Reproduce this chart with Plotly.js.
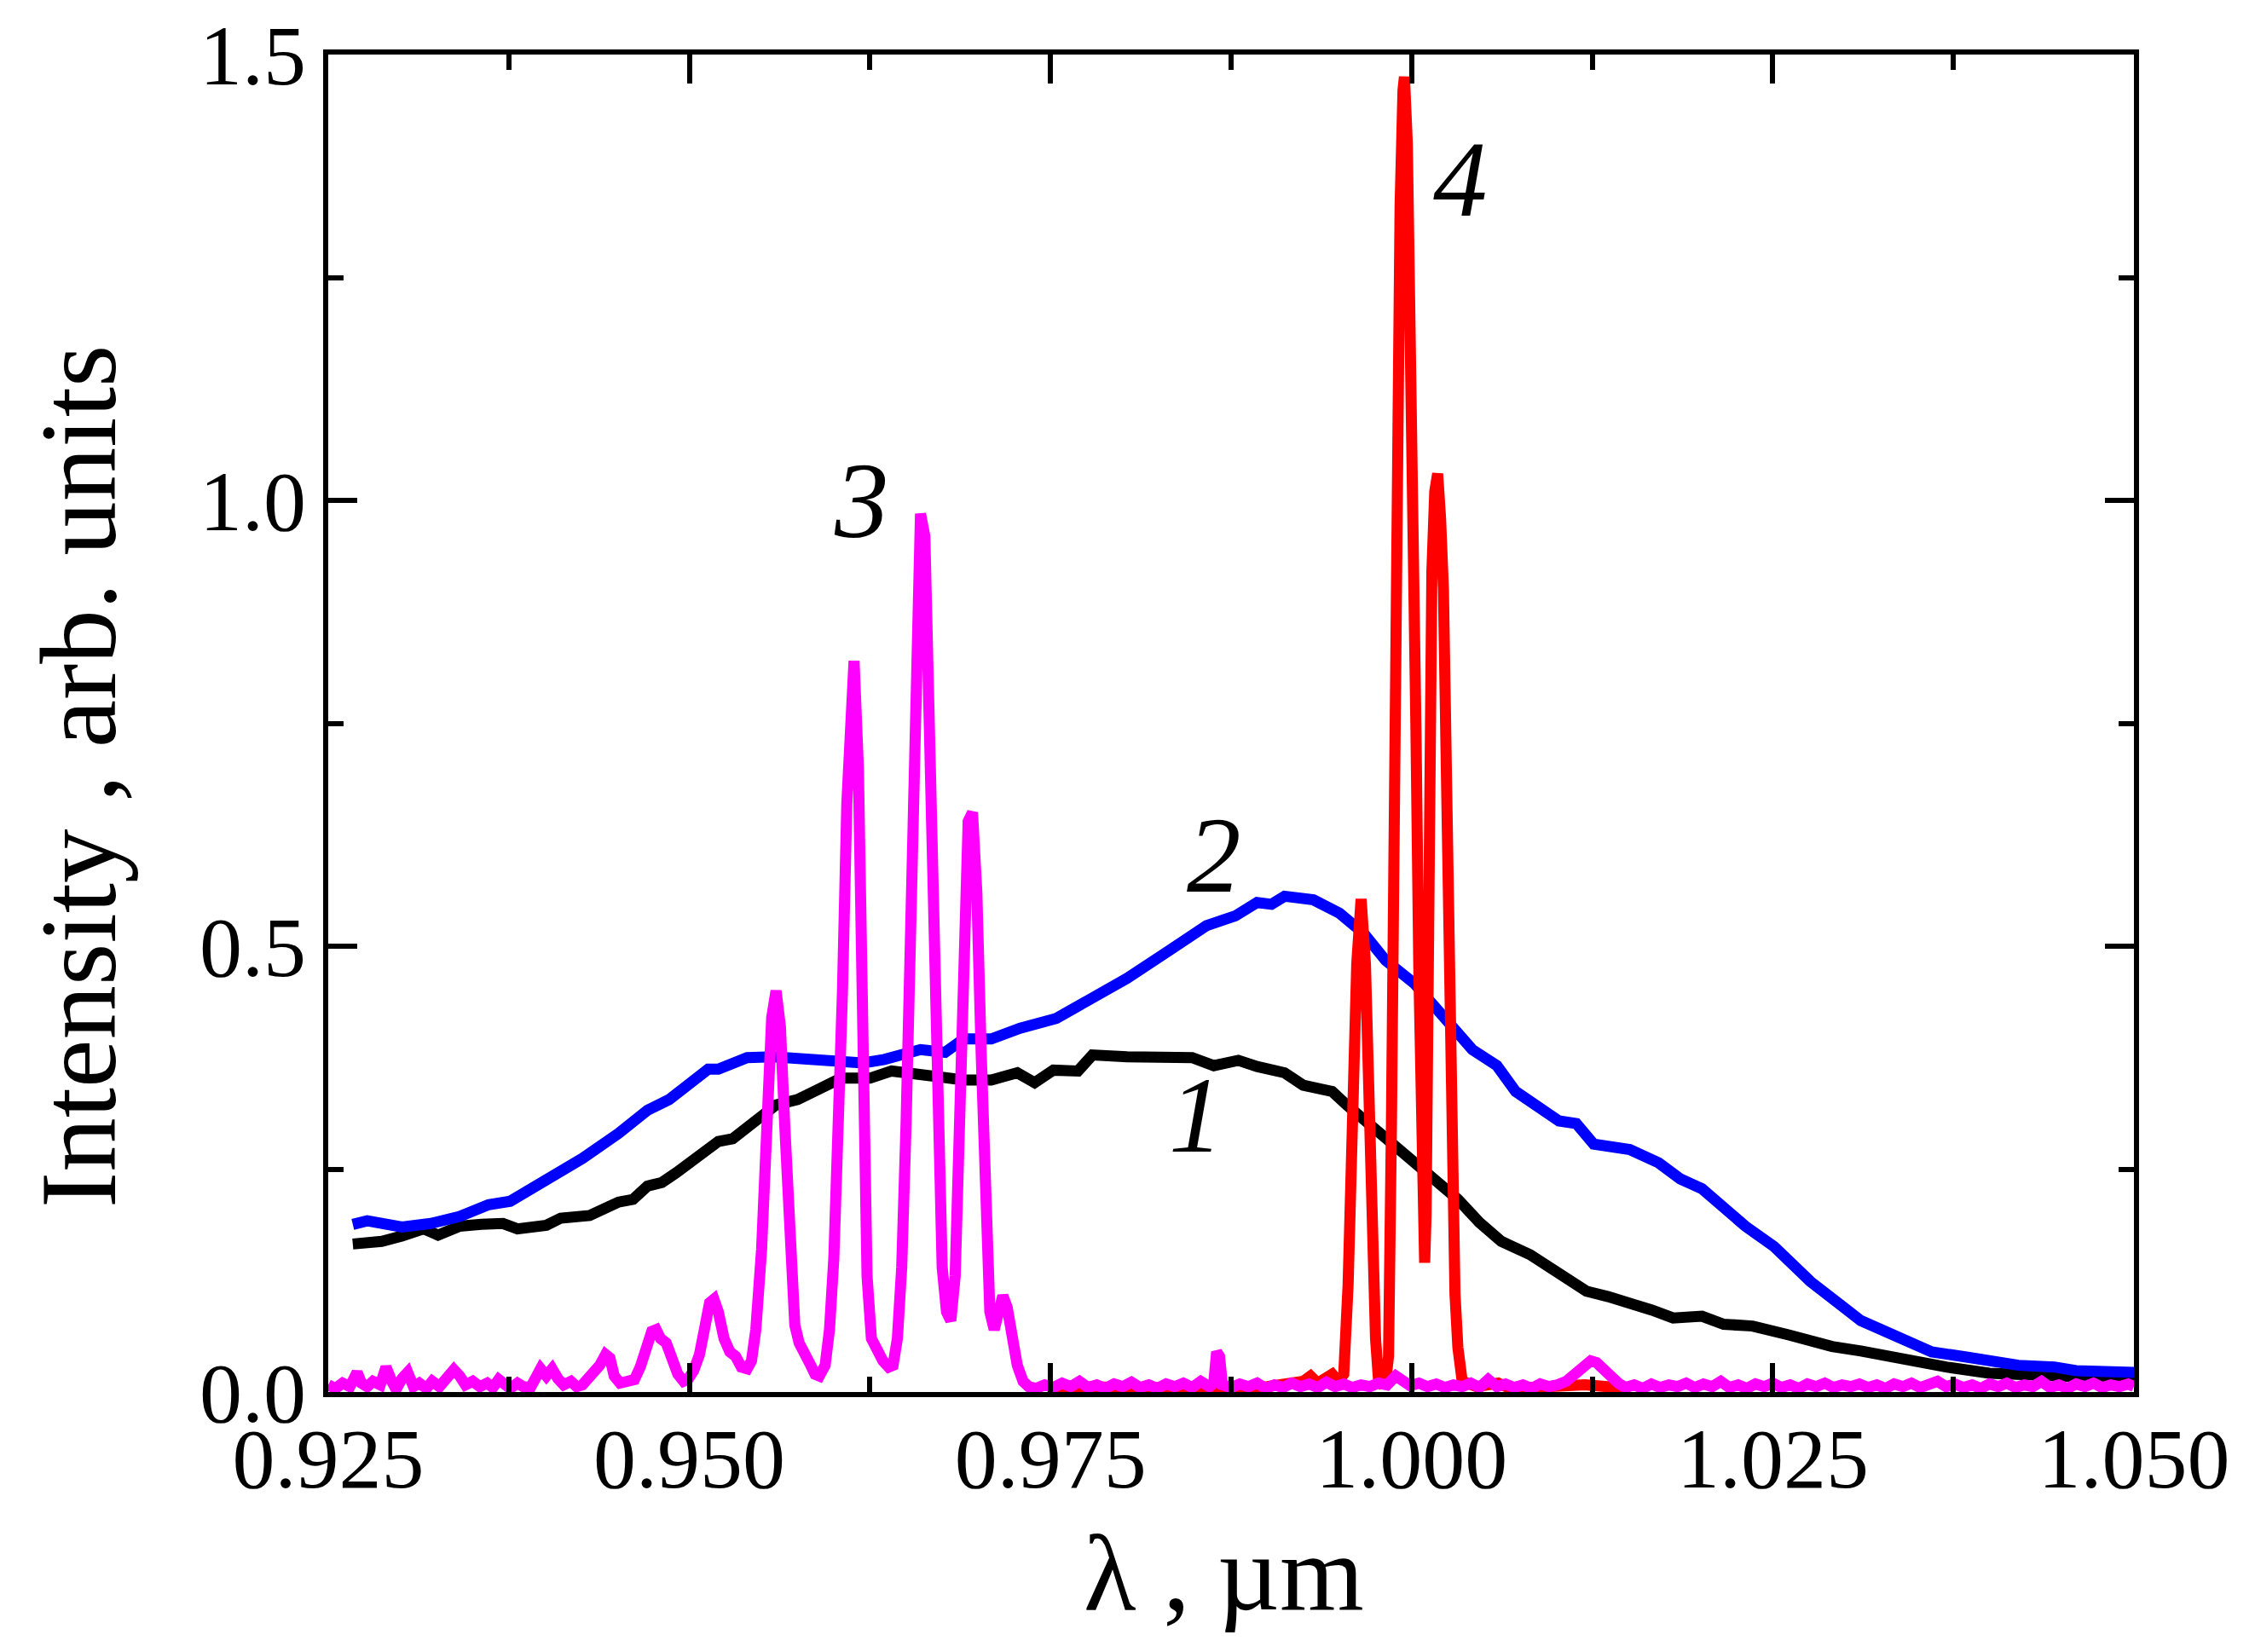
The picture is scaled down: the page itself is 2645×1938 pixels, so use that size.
<!DOCTYPE html>
<html>
<head>
<meta charset="utf-8">
<script src="https://cdn.plot.ly/plotly-3.0.1.min.js"></script>
<style>
  body { margin: 0; background: #fff; }
  #graphDiv { width: 2645px; height: 1938px; }
</style>
</head>
<body>
<div id="graphDiv"></div>
<script>
// curve 1 (black)
var lam1 = [0.9267,0.9287,0.9301,0.9316,0.9326,0.9341,0.9356,0.9371,0.9381,0.9391,0.9401,0.9411,0.9431,0.9451,0.9461,0.9471,0.9481,0.9491,0.9500,0.9510,
  0.9520,0.9530,0.9540,0.9550,0.9560,0.9575,0.9590,0.9605,0.9625,0.9640,0.9650,0.9670,0.9690,0.9709,0.9727,0.9739,0.9752,0.9769,0.9779,0.9803,
  0.9825,0.9848,0.9863,0.9880,0.9893,0.9912,0.9925,0.9945,0.9955,0.9972,0.9992,1.0012,1.0032,1.0047,1.0062,1.0082,1.0102,1.0121,1.0136,1.0151,
  1.0166,1.0181,1.0201,1.0216,1.0236,1.0261,1.0291,1.0311,1.0340,1.0370,1.0400,1.0430,1.0460,1.0480,1.0500];
var int1 = [0.166,0.169,0.175,0.183,0.176,0.186,0.188,0.189,0.183,0.186,0.187,0.195,0.198,0.213,0.216,0.231,0.235,0.246,0.257,0.266,
  0.281,0.284,0.297,0.310,0.322,0.328,0.340,0.352,0.352,0.360,0.358,0.353,0.350,0.350,0.358,0.347,0.361,0.360,0.378,0.376,
  0.377,0.375,0.366,0.372,0.365,0.358,0.344,0.337,0.322,0.298,0.269,0.242,0.216,0.190,0.169,0.154,0.133,0.113,0.107,0.101,
  0.092,0.083,0.085,0.076,0.074,0.064,0.051,0.046,0.036,0.028,0.021,0.018,0.016,0.016,0.018];

// curve 2 (blue)
var lam2 = [0.9267,0.9277,0.9301,0.9321,0.9341,0.9361,0.9376,0.9401,0.9426,0.9451,0.9471,0.9486,0.9500,0.9513,0.9520,0.9540,0.9558,0.9585,0.9600,0.9620,
  0.9635,0.9660,0.9677,0.9690,0.9709,0.9729,0.9754,0.9774,0.9803,0.9833,0.9858,0.9878,0.9893,0.9903,0.9912,0.9932,0.9950,0.9967,0.9982,1.0002,
  1.0022,1.0042,1.0059,1.0072,1.0102,1.0114,1.0126,1.0151,1.0171,1.0186,1.0201,1.0231,1.0251,1.0276,1.0311,1.0335,1.0360,1.0385,1.0420,1.0445,
  1.0460,1.0500];
var int2 = [0.188,0.192,0.185,0.189,0.197,0.210,0.214,0.238,0.262,0.290,0.316,0.328,0.346,0.362,0.362,0.375,0.376,0.373,0.369,0.369,
  0.373,0.384,0.381,0.396,0.396,0.408,0.419,0.437,0.464,0.496,0.523,0.534,0.549,0.547,0.556,0.552,0.537,0.514,0.484,0.458,
  0.422,0.384,0.366,0.337,0.304,0.301,0.278,0.272,0.257,0.239,0.228,0.186,0.163,0.124,0.080,0.062,0.045,0.039,0.030,0.028,
  0.024,0.022];

// curve 3 (magenta)
var lam3 = [0.9250,0.9255,0.9260,0.9265,0.9270,0.9273,0.9277,0.9281,0.9286,0.9290,0.9294,0.9297,0.9301,0.9305,0.9309,0.9313,0.9318,0.9322,0.9327,0.9332,
  0.9337,0.9341,0.9345,0.9350,0.9355,0.9360,0.9364,0.9368,0.9372,0.9376,0.9381,0.9385,0.9390,0.9394,0.9397,0.9401,0.9405,0.9409,0.9413,0.9418,
  0.9422,0.9426,0.9430,0.9434,0.9438,0.9442,0.9445,0.9448,0.9452,0.9457,0.9462,0.9466,0.9470,0.9474,0.9477,0.9480,0.9484,0.9488,0.9492,0.9496,
  0.9499,0.9503,0.9507,0.9511,0.9514,0.9517,0.9520,0.9524,0.9528,0.9532,0.9536,0.9540,0.9543,0.9546,0.9550,0.9554,0.9557,0.9560,0.9563,0.9566,
  0.9570,0.9573,0.9576,0.9580,0.9584,0.9587,0.9590,0.9594,0.9597,0.9600,0.9603,0.9606,0.9609,0.9612,0.9614,0.9617,0.9620,0.9623,0.9626,0.9630,
  0.9634,0.9638,0.9641,0.9644,0.9647,0.9650,0.9654,0.9657,0.9660,0.9663,0.9666,0.9669,0.9672,0.9675,0.9678,0.9681,0.9684,0.9687,0.9690,0.9693,
  0.9696,0.9699,0.9702,0.9705,0.9708,0.9711,0.9714,0.9717,0.9720,0.9723,0.9727,0.9731,0.9735,0.9740,0.9746,0.9752,0.9758,0.9764,0.9770,0.9776,
  0.9782,0.9788,0.9794,0.9800,0.9806,0.9812,0.9818,0.9824,0.9830,0.9836,0.9842,0.9848,0.9854,0.9860,0.9863,0.9865,0.9867,0.9869,0.9875,0.9881,
  0.9887,0.9893,0.9899,0.9905,0.9911,0.9917,0.9923,0.9929,0.9935,0.9941,0.9947,0.9953,0.9959,0.9965,0.9971,0.9977,0.9983,0.9989,0.9993,0.9999,
  1.0005,1.0011,1.0017,1.0023,1.0029,1.0035,1.0041,1.0047,1.0053,1.0059,1.0065,1.0071,1.0077,1.0083,1.0089,1.0095,1.0101,1.0107,1.0113,1.0119,
  1.0124,1.0128,1.0133,1.0138,1.0143,1.0148,1.0154,1.0160,1.0166,1.0172,1.0178,1.0184,1.0190,1.0196,1.0202,1.0208,1.0214,1.0220,1.0226,1.0232,
  1.0238,1.0244,1.0250,1.0256,1.0262,1.0268,1.0274,1.0280,1.0286,1.0292,1.0298,1.0304,1.0310,1.0316,1.0322,1.0328,1.0334,1.0340,1.0346,1.0352,
  1.0358,1.0364,1.0370,1.0376,1.0382,1.0388,1.0394,1.0400,1.0406,1.0412,1.0418,1.0424,1.0430,1.0436,1.0442,1.0448,1.0454,1.0460,1.0466,1.0472,
  1.0478,1.0484,1.0490,1.0496,1.0500];
var int3 = [0.008,0.004,0.010,0.006,0.022,0.010,0.006,0.012,0.008,0.028,0.012,0.003,0.015,0.022,0.006,0.010,0.004,0.012,0.006,0.014,
  0.025,0.018,0.008,0.012,0.006,0.010,0.005,0.014,0.008,0.004,0.010,0.006,0.005,0.016,0.026,0.018,0.026,0.015,0.008,0.012,
  0.006,0.008,0.015,0.022,0.030,0.042,0.038,0.018,0.010,0.012,0.014,0.028,0.050,0.068,0.070,0.060,0.055,0.038,0.020,0.012,
  0.014,0.024,0.042,0.075,0.100,0.104,0.090,0.060,0.045,0.040,0.028,0.026,0.035,0.070,0.160,0.310,0.420,0.450,0.410,0.300,
  0.150,0.075,0.055,0.045,0.030,0.020,0.018,0.030,0.070,0.150,0.280,0.450,0.660,0.800,0.820,0.700,0.400,0.130,0.060,0.045,
  0.035,0.028,0.030,0.060,0.140,0.300,0.580,0.850,0.985,0.960,0.760,0.480,0.260,0.140,0.090,0.080,0.130,0.310,0.520,0.640,
  0.650,0.560,0.380,0.200,0.090,0.070,0.095,0.108,0.095,0.065,0.030,0.012,0.006,0.004,0.008,0.005,0.010,0.006,0.012,0.005,
  0.008,0.004,0.009,0.006,0.011,0.005,0.008,0.004,0.009,0.006,0.010,0.005,0.012,0.006,0.010,0.045,0.040,0.008,0.005,0.009,
  0.006,0.010,0.004,0.008,0.005,0.010,0.006,0.009,0.005,0.011,0.006,0.009,0.005,0.008,0.006,0.010,0.008,0.018,0.012,0.007,
  0.010,0.006,0.009,0.005,0.008,0.006,0.010,0.005,0.014,0.006,0.009,0.005,0.008,0.004,0.009,0.006,0.008,0.012,0.020,0.030,
  0.035,0.033,0.025,0.014,0.010,0.005,0.008,0.004,0.009,0.005,0.008,0.006,0.010,0.005,0.009,0.006,0.012,0.005,0.008,0.004,
  0.009,0.006,0.010,0.005,0.008,0.004,0.009,0.006,0.010,0.005,0.008,0.006,0.009,0.005,0.008,0.004,0.009,0.006,0.010,0.005,
  0.008,0.012,0.006,0.009,0.005,0.008,0.004,0.009,0.006,0.010,0.005,0.008,0.006,0.012,0.005,0.008,0.004,0.009,0.006,0.010,
  0.005,0.008,0.006,0.009,0.006];

// curve 4 (red)
var lam4 = [0.9750,0.9780,0.9810,0.9840,0.9870,0.9900,0.9925,0.9930,0.9935,0.9940,0.9945,0.9949,0.9953,0.9956,0.9958,0.9960,0.9962,0.9965,0.9968,0.9970,
  0.9972,0.9975,0.9977,0.9979,0.9982,0.9984,0.9986,0.9988,0.9990,0.9992,0.9994,0.9995,0.9997,0.9999,1.0001,1.0003,1.0005,1.0007,1.0009,1.0010,
  1.0012,1.0014,1.0016,1.0018,1.0020,1.0022,1.0024,1.0026,1.0028,1.0030,1.0032,1.0035,1.0045,1.0060,1.0068,1.0090,1.0120,1.0150];
var int4 = [0.004,0.006,0.004,0.006,0.004,0.006,0.012,0.018,0.010,0.016,0.020,0.012,0.020,0.120,0.260,0.380,0.480,0.553,0.480,0.360,
  0.220,0.060,0.015,0.010,0.012,0.040,0.300,0.700,1.100,1.330,1.460,1.475,1.400,1.220,0.960,0.740,0.470,0.240,0.145,0.200,
  0.700,0.920,1.010,1.030,0.980,0.900,0.700,0.450,0.240,0.110,0.050,0.012,0.006,0.010,0.004,0.006,0.008,0.004];

var curveLabels = ['1', '2', '3', '4'];
var labelX = [0.9851, 0.9863, 0.9619, 1.0034];
var labelY = [0.311, 0.602, 1.000, 1.360];

var serif = 'Liberation Serif, Times New Roman, serif';

var trace1 = {type: 'scatter', mode: 'lines', x: lam1, y: int1, line: {color: '#000000', width: 13}};
var trace2 = {type: 'scatter', mode: 'lines', x: lam2, y: int2, line: {color: '#0000ff', width: 13}};
var trace4 = {type: 'scatter', mode: 'lines', x: lam4, y: int4, line: {color: '#ff0000', width: 13}};
var trace3 = {type: 'scatter', mode: 'lines', x: lam3, y: int3, line: {color: '#ff00ff', width: 13}};

var data = [trace1, trace2, trace4, trace3];

var annotations = curveLabels.map(function(t, i) {
  return {
    x: labelX[i], y: labelY[i], xref: 'x', yref: 'y',
    text: '<i>' + t + '</i>', showarrow: false,
    xanchor: 'center', yanchor: 'middle',
    font: {family: serif, size: 127, color: '#000'}
  };
});
annotations.push({
  xref: 'paper', yref: 'paper', x: -0.138, y: 0.46,
  text: 'Intensity , arb. units', textangle: -90, showarrow: false,
  xanchor: 'center', yanchor: 'middle',
  font: {family: serif, size: 127, color: '#000'}
});
annotations.push({
  xref: 'paper', yref: 'paper', x: 0.496, y: -0.135,
  text: 'λ , µm', showarrow: false,
  xanchor: 'center', yanchor: 'middle',
  font: {family: serif, size: 127, color: '#000'}
});

var axisCommon = {
  showgrid: false,
  zeroline: false,
  showline: true,
  linecolor: '#000',
  linewidth: 6,
  mirror: 'ticks',
  ticks: 'inside',
  ticklen: 34,
  tickwidth: 6,
  tickcolor: '#000',
  tickfont: {family: serif, size: 100, color: '#000'}
};

var layout = {
  width: 2645,
  height: 1938,
  margin: {l: 385, r: 142, t: 64, b: 305},
  paper_bgcolor: '#ffffff',
  plot_bgcolor: '#ffffff',
  showlegend: false,
  xaxis: Object.assign({}, axisCommon, {
    range: [0.925, 1.050],
    tick0: 0.925,
    dtick: 0.025,
    tickformat: '.3f',
    ticklabelstandoff: -14,
    minor: {dtick: 0.0125, ticks: 'inside', ticklen: 18, tickwidth: 6, tickcolor: '#000', showgrid: false}
  }),
  yaxis: Object.assign({}, axisCommon, {
    range: [0, 1.5],
    dtick: 0.5,
    tickformat: '.1f',
    minor: {dtick: 0.25, ticks: 'inside', ticklen: 18, tickwidth: 6, tickcolor: '#000', showgrid: false}
  }),
  annotations: annotations
};

Plotly.newPlot('graphDiv', data, layout, {staticPlot: true});
</script>
</body>
</html>
